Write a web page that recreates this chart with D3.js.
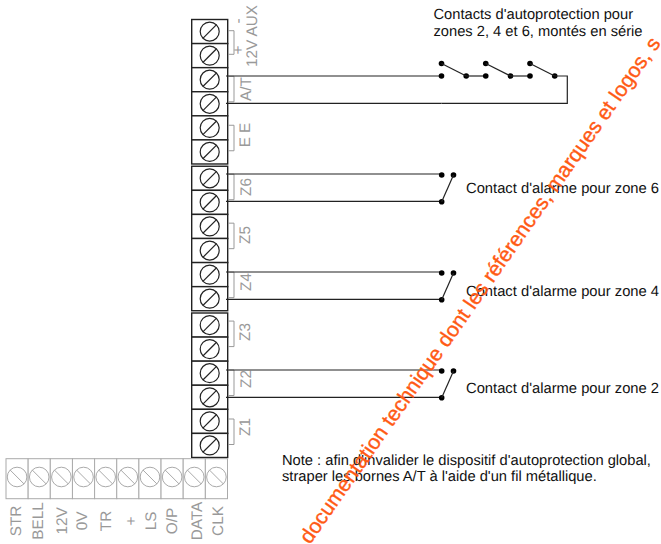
<!DOCTYPE html>
<html>
<head>
<meta charset="utf-8">
<script src="https://cdn.jsdelivr.net/npm/d3@7"></script>
<style>
html, body { margin: 0; padding: 0; background: #fff; }
text { font-family: "Liberation Sans", Arial, sans-serif; text-rendering: geometricPrecision; }
</style>
</head>
<body>
<div id="chart-area"></div>
<script>
// terminal strips
var blocks = [0, 1, 2];
var blockRows = [0, 1, 2, 3, 4, 5];
var bottomTerminals = ["STR", "BELL", "12V", "0V", "TR", "+", "LS", "O/P", "DATA", "CLK"];

// bracket labels next to the vertical strip
var sideLabels = ["12V AUX", "A/T", "E E", "Z6", "Z5", "Z4", "Z3", "Z2", "Z1"];

// wired zones
var wiredZones = ["A/T", "Z6", "Z4", "Z2"];
var alarmZones = ["Z6", "Z4", "Z2"];
var alarmCaptions = ["Contact d'alarme pour zone 6", "Contact d'alarme pour zone 4", "Contact d'alarme pour zone 2"];
var seriesSwitches = [0, 1, 2];

var headerLines = ["Contacts d'autoprotection pour", "zones 2, 4 et 6, montés en série"];
var noteLines = ["Note : afin d'invalider le dispositif d'autoprotection global,", "straper les bornes A/T à l'aide d'un fil métallique."];
var watermark = "documentation technique dont les références, marques et logos, s";

var svg = d3.select("#chart-area").append("svg")
    .attr("width", 661)
    .attr("height", 544)
    .style("display", "block");

var black = "#222";
var grey = "#999";

var blockY = d3.scalePoint().domain(blocks).range([19.5, 313]);
var rowH = 24.08;
var wireY = d3.scalePoint().domain(wiredZones).range([76, 370]);
var wireGap = 27.3;
var bracketY = d3.scaleLinear().domain([0, 1, 8]).range([30.7, 76.3, 419]);
var labelY = d3.scaleOrdinal().domain(sideLabels).range([36, 89, 135, 187, 235, 282, 332, 379, 427]);
var labelX = d3.scaleOrdinal().domain(sideLabels).range([252, 246, 245, 246, 245, 246, 245, 246, 245]);
var captionY = d3.scaleOrdinal().domain(alarmZones).range([192.5, 295.5, 393]);
var bottomX = d3.scaleBand().domain(bottomTerminals).range([6, 227.5]);
var bottomLabelX = d3.scaleOrdinal().domain(bottomTerminals).range([16, 38, 62, 82, 106, 131, 151, 172, 197, 218]);

function screw(g, cx, cy, r, dir, color, sw) {
    g.append("circle").attr("cx", cx).attr("cy", cy).attr("r", r)
        .attr("fill", "none").attr("stroke", color).attr("stroke-width", sw);
    var k = r * 0.72;
    g.append("line")
        .attr("x1", cx - k).attr("y1", cy + dir * k)
        .attr("x2", cx + k).attr("y2", cy - dir * k)
        .attr("stroke", color).attr("stroke-width", sw);
}

// vertical strip
blocks.forEach((b)=>{
    blockRows.forEach((r)=>{
        var top = blockY(b) + r * rowH;
        svg.append("rect")
            .attr("x", 191.7).attr("y", top)
            .attr("width", 36).attr("height", rowH)
            .attr("fill", "#fff").attr("stroke", black).attr("stroke-width", 1.4);
        screw(svg, 209.7, top + rowH / 2, 9.5, 1, black, 1.2);
    });
});

// bottom strip
bottomTerminals.forEach((t)=>{
    svg.append("rect")
        .attr("x", bottomX(t)).attr("y", 458.7)
        .attr("width", bottomX.bandwidth()).attr("height", 40)
        .attr("fill", "#fff").attr("stroke", "#aaa").attr("stroke-width", 1);
    screw(svg, bottomX(t) + bottomX.bandwidth() / 2, 477, 9.8, -1, "#aaa", 1);
    svg.append("text")
        .attr("transform", "translate(" + (bottomLabelX(t) + 5) + ",521) rotate(-90)")
        .attr("text-anchor", "middle")
        .attr("font-size", 15.3)
        .attr("fill", grey)
        .text(t);
});

// brackets and their labels
sideLabels.forEach((l, i)=>{
    var y0 = bracketY(i);
    var h = i == 0 ? 23.6 : 25.5;
    svg.append("path")
        .attr("d", "M228," + y0 + "H234V" + (y0 + h) + "H228")
        .attr("fill", "none").attr("stroke", grey).attr("stroke-width", 1);
    svg.append("text")
        .attr("transform", "translate(" + (labelX(l) + 5) + "," + labelY(l) + ") rotate(-90)")
        .attr("text-anchor", "middle")
        .attr("font-size", 15.3)
        .attr("fill", grey)
        .text(l);
});
svg.append("text").attr("transform", "translate(243,50) rotate(-90)").attr("text-anchor", "middle")
    .attr("font-size", 15.3).attr("fill", grey).text("+");
svg.append("text").attr("transform", "translate(243,21) rotate(-90)").attr("text-anchor", "middle")
    .attr("font-size", 15.3).attr("fill", grey).text("-");

function dot(x, y) {
    svg.append("circle").attr("cx", x).attr("cy", y).attr("r", 2.8).attr("fill", "#000");
}
function wire(x1, y1, x2, y2) {
    svg.append("line")
        .attr("x1", x1).attr("y1", y1).attr("x2", x2).attr("y2", y2)
        .attr("stroke", black).attr("stroke-width", 1.2);
}

// wires to the contacts
wiredZones.forEach((z)=>{
    wire(226, wireY(z), 441.5, wireY(z));
    wire(226, wireY(z) + wireGap, 441.5, wireY(z) + wireGap);
});

// series contacts on A/T
var switchX = d3.scaleLinear().domain([0, 2]).range([441.5, 530]);
var topY = wireY("A/T");
seriesSwitches.forEach((s)=>{
    var x = switchX(s);
    dot(x, topY);
    dot(x, topY - 12.5);
    dot(x + 24.7, topY);
    wire(x, topY - 12.5, x + 24.7, topY);
    if (s < 2) wire(x + 24.7, topY, switchX(s + 1), topY);
});
svg.append("path")
    .attr("d", "M" + (switchX(2) + 24.7) + "," + topY + "H567.3V" + (topY + wireGap) + "H441.5")
    .attr("fill", "none").attr("stroke", black).attr("stroke-width", 1.2);

// alarm contacts
alarmZones.forEach((z, i)=>{
    var y = wireY(z);
    dot(441.7, y + 1);
    dot(453.5, y + 1);
    dot(441.7, y + wireGap + 0.5);
    wire(441.7, y + wireGap + 0.5, 453.5, y + 1);
    svg.append("text")
        .attr("x", 466).attr("y", captionY(z))
        .attr("font-size", 14.75).attr("fill", "#111")
        .text(alarmCaptions[i]);
});

// texts
var textLines = d3.scaleOrdinal().domain(headerLines.concat(noteLines)).range([18.7, 35.7, 465, 480.7]);
headerLines.forEach((l)=>{
    svg.append("text").attr("x", 433.5).attr("y", textLines(l))
        .attr("font-size", 14.7).attr("fill", "#111").text(l);
});
noteLines.forEach((l)=>{
    svg.append("text").attr("x", 282).attr("y", textLines(l))
        .attr("font-size", 14.7).attr("fill", "#111").text(l);
});

svg.append("text")
    .attr("transform", "translate(310,545) rotate(-55)")
    .attr("font-size", 20.95)
    .attr("fill", "#ff5a14")
    .attr("stroke", "#ff5a14")
    .attr("stroke-width", 0.35)
    .text(watermark);
</script>
</body>
</html>
